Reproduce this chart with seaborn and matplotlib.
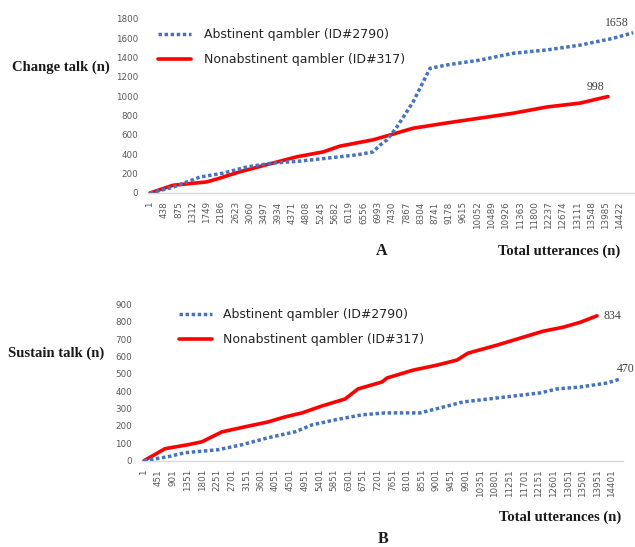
import numpy as np
import pandas as pd
import matplotlib
matplotlib.use("Agg")
import matplotlib.pyplot as plt
import seaborn as sns

# ---- Change talk: cumulative counts against total utterances ----
change_abst_u = [1, 707, 1536, 2241, 2978, 3776, 4605, 5433, 6354, 6845, 7060, 7275,
                 7582, 8073, 8595, 9116, 10129, 11141, 12185, 13198, 14211, 14830]
change_abst_n = [0, 60, 165, 205, 270, 310, 330, 360, 395, 425, 495, 550,
                 685, 940, 1290, 1325, 1375, 1445, 1480, 1530, 1600, 1658]
change_non_u = [1, 707, 1750, 2057, 2763, 3776, 4512, 5311, 5832, 6845, 7367,
                8073, 9116, 10129, 11141, 12185, 13198, 14057]
change_non_n = [0, 80, 115, 145, 220, 310, 375, 425, 485, 550, 600,
                670, 725, 775, 825, 890, 930, 998]

# ---- Sustain talk ----
sustain_abst_u = [1, 739, 1263, 2278, 3016, 3816, 4647, 5170, 5878, 6709, 7417,
                  8494, 9110, 9817, 10864, 12186, 12709, 13417, 14248, 14648]
sustain_abst_n = [0, 23, 46, 63, 92, 132, 166, 206, 235, 264, 275,
                  275, 304, 338, 361, 390, 413, 424, 447, 470]
sustain_non_u = [1, 647, 1355, 1786, 2401, 3109, 3816, 4340, 4863, 5478, 6186, 6586,
                 7324, 7478, 8278, 9017, 9632, 9970, 10862, 11570, 12278, 12893,
                 13417, 13940]
sustain_non_n = [0, 69, 92, 109, 166, 195, 223, 252, 275, 315, 355, 413,
                 453, 476, 521, 550, 579, 619, 665, 705, 745, 768, 796, 834]

# category tick labels on the utterance axis
change_ticks = [1 + 437 * k for k in range(34)]
sustain_ticks = [1 + 450 * k for k in range(33)]

label_abst = "Abstinent qambler (ID#2790)"
label_non = "Nonabstinent qambler (ID#317)"

sns.set_style("white")
plt.rcParams["font.family"] = ["DejaVu Sans"]

BLUE = "#4472C4"
RED = "#FF0000"
TICK_C = "#595959"
SERIF = ["Liberation Serif", "DejaVu Serif"]

fig = plt.figure(figsize=(6.35, 5.47), dpi=100)
W, H = 635, 547


def px_axes(left, right, top, bottom):
    return fig.add_axes([left / W, 1 - bottom / H, (right - left) / W, (bottom - top) / H])


def draw(ax, au, an, nu, nn, ticks, xlim, ylim, ystep):
    df = pd.concat([
        pd.DataFrame({"u": au, "n": an, "who": label_abst}),
        pd.DataFrame({"u": nu, "n": nn, "who": label_non}),
    ])
    sns.lineplot(data=df[df.who == label_abst], x="u", y="n", ax=ax, color=BLUE,
                 lw=2.5, label=label_abst, linestyle=(0, (1, 0.75)),
                 solid_capstyle="butt", dash_capstyle="butt", zorder=3)
    sns.lineplot(data=df[df.who == label_non], x="u", y="n", ax=ax, color=RED,
                 lw=2.6, label=label_non, zorder=2)
    ax.set_xlim(*xlim)
    ax.set_ylim(*ylim)
    ax.set_xticks(ticks)
    ax.set_xticklabels([str(t) for t in ticks], rotation=90, fontsize=6.3,
                       color=TICK_C, va="top", ha="center")
    ax.set_yticks(np.arange(ylim[0], ylim[1] + 1, ystep))
    ax.set_yticklabels([str(int(v)) for v in np.arange(ylim[0], ylim[1] + 1, ystep)],
                       fontsize=6.3, color=TICK_C)
    ax.tick_params(axis="both", length=0)
    ax.tick_params(axis="x", pad=6)
    ax.tick_params(axis="y", pad=7)
    ax.set_xlabel("")
    ax.set_ylabel("")
    for s in ["top", "right", "left"]:
        ax.spines[s].set_visible(False)
    ax.spines["bottom"].set_color("#d9d9d9")
    ax.spines["bottom"].set_linewidth(1.0)
    ax.grid(False)
    ax.set_facecolor("none")


# Panel A
axA = px_axes(148, 635, 19, 193)
draw(axA, change_abst_u, change_abst_n, change_non_u, change_non_n, change_ticks,
     (-60, 14886), (0, 1800), 200)
legA = axA.legend(loc="upper left", bbox_to_anchor=(158 / W, 1 - 28 / H),
                  bbox_transform=fig.transFigure, frameon=False, fontsize=9,
                  handlelength=2.6, handletextpad=1.1, labelspacing=1.0,
                  borderpad=0, borderaxespad=0)
for t in legA.get_texts():
    t.set_color("#262626")
axA.annotate(str(change_abst_n[-1]), (change_abst_u[-1], change_abst_n[-1]),
             xytext=(-16, 10), textcoords="offset pixels", ha="center", va="center",
             fontsize=8.5, color="#404040", family=SERIF, annotation_clip=False)
axA.annotate(str(change_non_n[-1]), (change_non_u[-1], change_non_n[-1]),
             xytext=(-12, 10), textcoords="offset pixels", ha="center", va="center",
             fontsize=8.5, color="#404040", family=SERIF, annotation_clip=False)

# Panel B
axB = px_axes(142, 623, 304.3, 460.7)
draw(axB, sustain_abst_u, sustain_abst_n, sustain_non_u, sustain_non_n, sustain_ticks,
     (-60, 14740), (0, 900), 100)
legB = axB.legend(loc="upper left", bbox_to_anchor=(179 / W, 1 - 308 / H),
                  bbox_transform=fig.transFigure, frameon=False, fontsize=9,
                  handlelength=2.6, handletextpad=0.9, labelspacing=1.0,
                  borderpad=0, borderaxespad=0)
for t in legB.get_texts():
    t.set_color("#262626")
axB.annotate(str(sustain_non_n[-1]), (sustain_non_u[-1], sustain_non_n[-1]),
             xytext=(6, 0), textcoords="offset pixels", ha="left", va="center",
             fontsize=8.5, color="#404040", family=SERIF, annotation_clip=False)
axB.annotate(str(sustain_abst_n[-1]), (sustain_abst_u[-1], sustain_abst_n[-1]),
             xytext=(-3, 10), textcoords="offset pixels", ha="left", va="center",
             fontsize=8.5, color="#404040", family=SERIF, annotation_clip=False)

# Axis titles and panel letters
title_kw = dict(family=SERIF, fontweight="bold", fontsize=10.5, color="#1a1a1a")
fig.text(12 / W, 1 - 67 / H, "Change talk (n)", ha="left", va="center", **title_kw)
fig.text(8 / W, 1 - 353 / H, "Sustain talk (n)", ha="left", va="center", **title_kw)
fig.text(620 / W, 1 - 251 / H, "Total utterances (n)", ha="right", va="center", **title_kw)
fig.text(621 / W, 1 - 517 / H, "Total utterances (n)", ha="right", va="center", **title_kw)
fig.text(382 / W, 1 - 251 / H, "A", ha="center", va="center",
         family=SERIF, fontweight="bold", fontsize=11.5, color="#1a1a1a")
fig.text(383 / W, 1 - 539 / H, "B", ha="center", va="center",
         family=SERIF, fontweight="bold", fontsize=11.5, color="#1a1a1a")

fig.savefig("out.png", dpi=100, facecolor="white")
